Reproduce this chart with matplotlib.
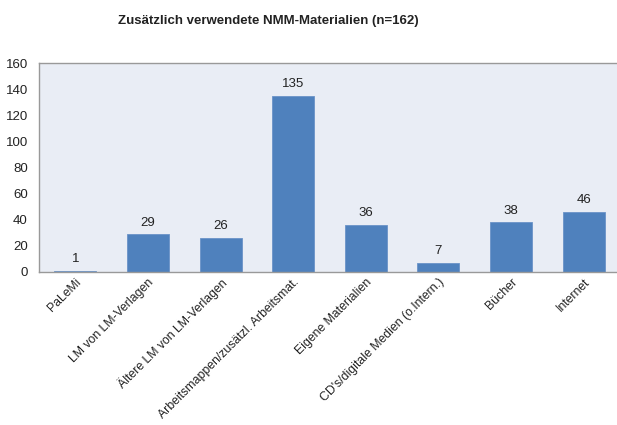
import matplotlib
matplotlib.use("Agg")
import matplotlib.pyplot as plt

categories = ["PaLeMi", "LM von LM-Verlagen", "Ältere LM von LM-Verlagen",
              "Arbeitsmappen/zusätzl. Arbeitsmat.", "Eigene Materialien",
              "CD's/digitale Medien (o.Intern.)", "Bücher", "Internet"]
values = [1, 29, 26, 135, 36, 7, 38, 46]
yticks = [0, 20, 40, 60, 80, 100, 120, 140, 160]
title = "Zusätzlich verwendete NMM-Materialien (n=162)"

plt.rcParams['font.family'] = ['Liberation Sans', 'DejaVu Sans']

fig = plt.figure(figsize=(6.17, 4.25), dpi=100)
ax = fig.add_axes([39/617, (425-272)/425, 581/617, 209/425])
ax.set_facecolor("#E9EDF5")
x = range(len(categories))
bars = ax.bar(x, values, width=0.58, color="#4F81BD", edgecolor="#6A93C8", linewidth=0.6, zorder=2)
for xi, v in zip(x, values):
    ax.annotate(str(v), (xi, v), xytext=(0, 4), textcoords="offset points",
                ha="center", va="bottom", fontsize=9.5, color="#222222")
ax.set_xlim(-0.5, 7.5)
ax.set_ylim(0, 160)
ax.set_yticks(yticks)
ax.tick_params(axis="y", length=0, labelsize=9.5, pad=8, colors="#222222")
ax.tick_params(axis="x", length=0, pad=3)
ax.set_xticks(list(x))
ax.set_xticklabels(categories, rotation=45, ha="right", rotation_mode="anchor", fontsize=8.8, color="#222222")
for s in ["left", "top", "bottom"]:
    ax.spines[s].set_color("#999999")
    ax.spines[s].set_linewidth(1)
ax.spines["right"].set_visible(False)
fig.text(268/617, 1 - 21/425, title, ha="center", va="center", fontsize=9.5, fontweight="bold", color="#222222")
fig.savefig("out.png", dpi=100, facecolor="white")
